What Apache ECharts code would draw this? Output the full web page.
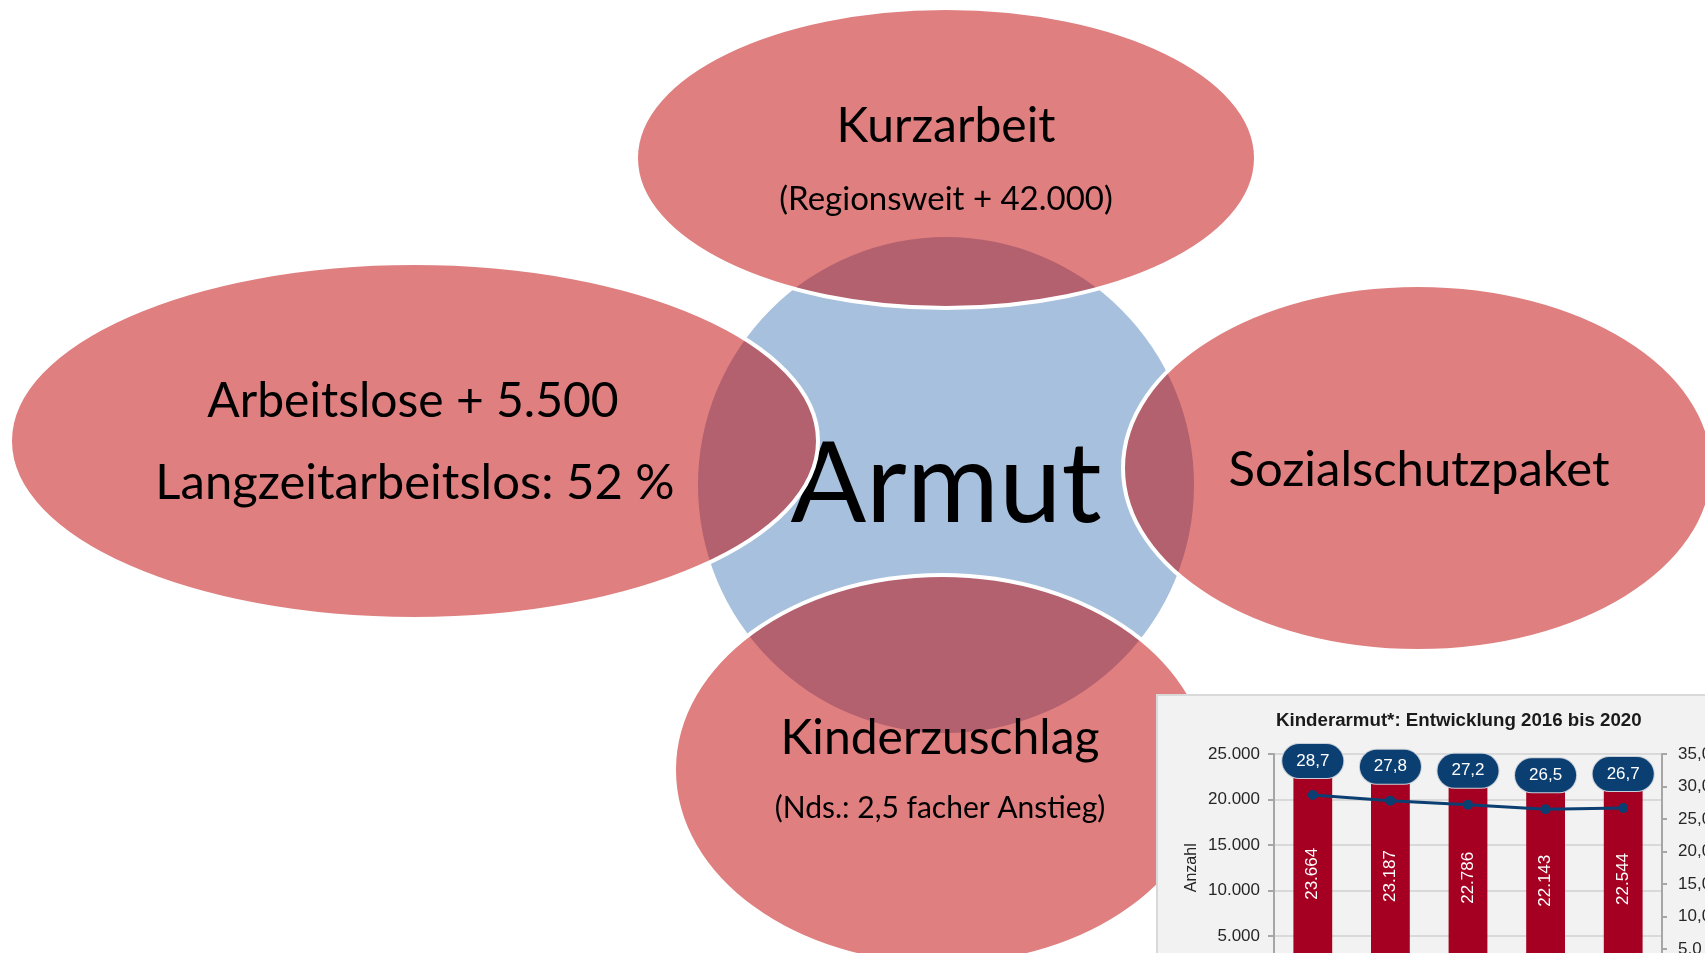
<!DOCTYPE html>
<html>
<head>
<meta charset="utf-8">
<script src="https://cdn.jsdelivr.net/npm/echarts@6/dist/echarts.min.js"></script>
<style>
  html, body { margin: 0; padding: 0; background: #fff; }
  #main { width: 1705px; height: 953px; }
</style>
</head>
<body>
<div id="main"></div>
<script>
// Kinderarmut chart data
const years = ['2016', '2017', '2018', '2019', '2020'];
const anzahl = [23664, 23187, 22786, 22143, 22544];
const quote = [28.7, 27.8, 27.2, 26.5, 26.7];

// bubble diagram texts
const zentrum = 'Armut';
const kurzarbeit = ['Kurzarbeit', '(Regionsweit + 42.000)'];
const arbeitslose = ['Arbeitslose + 5.500', 'Langzeitarbeitslos: 52 %'];
const sozial = ['Sozialschutzpaket'];
const kinder = ['Kinderzuschlag', '(Nds.: 2,5 facher Anstieg)'];

const bigFont = '48px Lato';
const chartFont = 'Liberation Sans';

function fmtThousand(v) {
  return String(v).replace(/\B(?=(\d{3})+(?!\d))/g, '.');
}
function fmtComma(v) {
  return v.toFixed(1).replace('.', ',');
}

function bubble(cx, cy, rx, ry) {
  return {
    type: 'ellipse', z: 3,
    shape: { cx: cx, cy: cy, rx: rx, ry: ry },
    style: { fill: 'rgba(192,0,0,0.5)', stroke: '#fff', lineWidth: 4 }
  };
}
function label(txt, x, y, font) {
  return {
    type: 'text', z: 4, x: x, y: y,
    style: { text: txt, font: font, fill: '#000', align: 'center', verticalAlign: 'middle' }
  };
}

const chart = echarts.init(document.getElementById('main'));

const option = {
  animation: false,
  backgroundColor: '#fff',
  title: {
    text: 'Kinderarmut*: Entwicklung 2016 bis 2020',
    left: 1276,
    top: 711,
    padding: 0,
    z: 12,
    textStyle: { fontFamily: chartFont, fontSize: 18.7, fontWeight: 'bold', color: '#1a1a1a' }
  },
  graphic: {
    elements: [
      { type: 'circle', z: 1, shape: { cx: 946, cy: 485, r: 248 }, style: { fill: '#A7C0DE' } },
      {
        type: 'text', z: 2, x: 946, y: 486,
        style: { text: zentrum, font: '112px Lato', fill: '#000', align: 'center', verticalAlign: 'middle' }
      },
      bubble(946, 158, 310, 150),
      bubble(414, 441, 404, 178),
      bubble(1418, 468, 295, 183),
      bubble(942, 770, 268, 195),
      label(kurzarbeit[0], 946, 127, bigFont),
      label(kurzarbeit[1], 946, 199, '33px Lato'),
      label(arbeitslose[0], 413, 402, bigFont),
      label(arbeitslose[1], 415, 483, '49px Lato'),
      label(sozial[0], 1419, 470, '49px Lato'),
      label(kinder[0], 940, 739, bigFont),
      label(kinder[1], 940, 808, '30px Lato'),
      {
        type: 'rect', z: 5,
        shape: { x: 1157, y: 695, width: 620, height: 320 },
        style: { fill: '#f2f2f2', stroke: '#d9d9d9', lineWidth: 2 }
      }
    ]
  },
  grid: {
    left: 1274,
    top: 754,
    width: 388,
    height: 227.5,
    containLabel: false,
    outerBoundsMode: 'none'
  },
  xAxis: {
    type: 'category',
    data: years,
    z: 10,
    axisLine: { lineStyle: { color: '#a6a6a6', width: 2 } },
    axisTick: { show: false },
    axisLabel: { fontFamily: chartFont, fontSize: 17, color: '#262626' }
  },
  yAxis: [
    {
      type: 'value',
      min: 0, max: 25000, interval: 5000,
      z: 10,
      name: 'Anzahl',
      nameLocation: 'middle',
      nameRotate: 90,
      nameGap: 74,
      nameTextStyle: { fontFamily: chartFont, fontSize: 16, color: '#262626' },
      axisLine: { show: true, lineStyle: { color: '#a6a6a6', width: 2 } },
      axisTick: { show: true, length: 6, lineStyle: { color: '#a6a6a6', width: 2 } },
      axisLabel: { margin: 14, fontFamily: chartFont, fontSize: 17, color: '#262626', formatter: fmtThousand },
      splitLine: { lineStyle: { color: '#d9d9d9', width: 2 } }
    },
    {
      type: 'value',
      min: 0, max: 35, interval: 5,
      z: 10,
      position: 'right',
      axisLine: { show: true, lineStyle: { color: '#a6a6a6', width: 2 } },
      axisTick: { show: true, length: 5, lineStyle: { color: '#a6a6a6', width: 2 } },
      axisLabel: { margin: 16, fontFamily: chartFont, fontSize: 17, color: '#262626', formatter: fmtComma },
      splitLine: { show: false }
    }
  ],
  series: [
    {
      name: 'Anzahl',
      type: 'bar',
      z: 11,
      barWidth: '50%',
      data: anzahl,
      itemStyle: { color: '#A50021' },
      label: {
        show: true,
        position: 'inside',
        rotate: 90,
        fontFamily: chartFont,
        fontSize: 17,
        color: '#fff',
        formatter: function (p) { return fmtThousand(p.value); }
      }
    },
    {
      name: 'Quote',
      type: 'line',
      yAxisIndex: 1,
      z: 12,
      data: quote,
      symbol: 'circle',
      symbolSize: 10,
      lineStyle: { color: '#0b3f72', width: 3 },
      itemStyle: { color: '#0b3f72' },
      label: {
        show: true,
        position: 'top',
        distance: 12,
        fontFamily: chartFont,
        fontSize: 17,
        lineHeight: 18,
        color: '#fff',
        backgroundColor: '#0b3f72',
        borderColor: '#c8cfd8',
        borderWidth: 1,
        borderRadius: 17,
        padding: [8, 14],
        formatter: function (p) { return fmtComma(p.value); }
      }
    }
  ]
};

chart.setOption(option);
</script>
</body>
</html>
